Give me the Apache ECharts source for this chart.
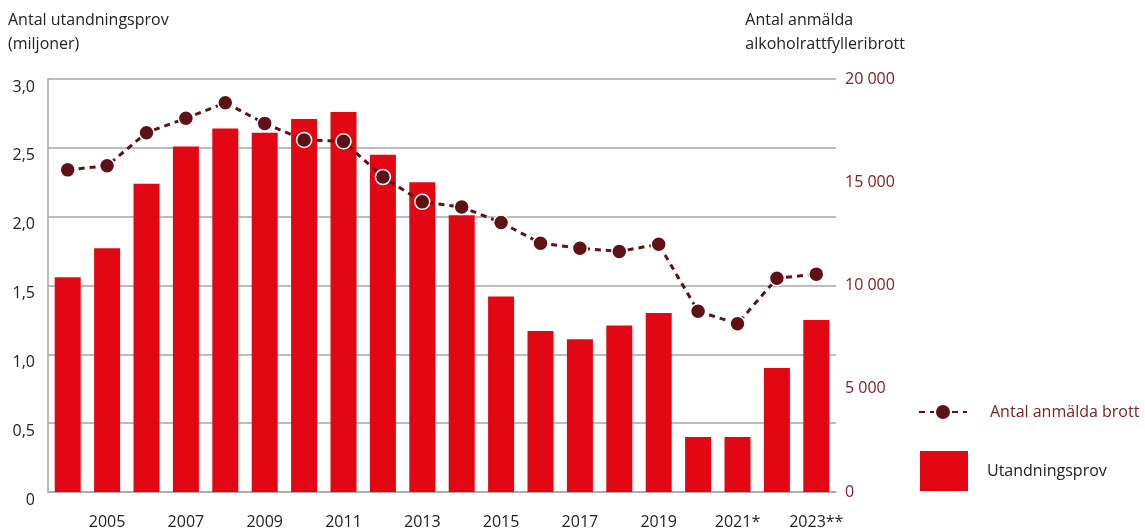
<!DOCTYPE html>
<html>
<head>
<meta charset="utf-8">
<script src="https://cdn.jsdelivr.net/npm/echarts@6/dist/echarts.min.js"></script>
<style>
  html, body { margin: 0; padding: 0; background: #fff; }
  #chart { width: 1145px; height: 531px; }
</style>
</head>
<body>
<div id="chart"></div>
<script>
// år, sista två med fotnotsmarkering
const years = ['2004', '2005', '2006', '2007', '2008', '2009', '2010', '2011', '2012', '2013',
  '2014', '2015', '2016', '2017', '2018', '2019', '2020', '2021*', '2022', '2023**'];
// utandningsprov, miljoner
const proofs = [1.56, 1.77, 2.24, 2.51, 2.64, 2.61, 2.71, 2.76, 2.45, 2.25,
  2.01, 1.42, 1.17, 1.11, 1.21, 1.30, 0.40, 0.40, 0.90, 1.25];
// anmälda alkoholrattfylleribrott
const crimes = [15600, 15800, 17400, 18100, 18850, 17850, 17050, 16980, 15250, 14050,
  13800, 13050, 12050, 11800, 11650, 12000, 8750, 8150, 10350, 10550];

const FONT = '"Open Sans", sans-serif';
const RED = '#e30613';
const DARK = '#5e1216';
const WINE = '#7d2128';
const GREY = '#a6a6a6';

let myChart = echarts.init(document.getElementById('chart'));

let option = {
  animation: false,
  textStyle: { fontFamily: FONT },
  title: [
    {
      text: 'Antal utandningsprov\n(miljoner)',
      left: 8, top: 8, padding: 0,
      textStyle: { fontFamily: FONT, fontSize: 16, fontWeight: 'normal', color: '#222', lineHeight: 24 }
    },
    {
      text: 'Antal anmälda\nalkoholrattfylleribrott',
      right: 240, top: 8, padding: 0,
      textStyle: { fontFamily: FONT, fontSize: 16, fontWeight: 'normal', color: '#222', lineHeight: 24, align: 'right' }
    }
  ],
  grid: { left: 48, right: 309, top: 79, bottom: 39 },
  legend: [
    {
      data: ['Antal anmälda brott'],
      left: 918, top: 403, padding: 0,
      itemWidth: 48, itemHeight: 20,
      textStyle: { fontFamily: FONT, fontSize: 16, color: WINE, padding: [0, 0, 0, 18] }
    },
    {
      data: [{ name: 'Utandningsprov', icon: 'rect' }],
      left: 920, top: 451, padding: 0,
      itemWidth: 48, itemHeight: 40,
      textStyle: { fontFamily: FONT, fontSize: 16, color: '#222', padding: [0, 0, 0, 14] }
    }
  ],
  xAxis: {
    type: 'category',
    data: years,
    axisLine: { lineStyle: { color: GREY, width: 1.5 } },
    axisTick: { inside: true, length: 5, lineStyle: { color: GREY, width: 1.5 } },
    axisLabel: {
      interval: function (i) { return i % 2 === 1; },
      fontSize: 16, color: '#222', margin: 22, fontFamily: FONT
    }
  },
  yAxis: [
    {
      type: 'value',
      min: 0, max: 3, interval: 0.5,
      axisLine: { show: true, lineStyle: { color: GREY, width: 1.5 } },
      axisTick: { show: false },
      splitLine: { lineStyle: { color: GREY, width: 1.5 } },
      axisLabel: {
        fontSize: 16, color: '#222', margin: 13, fontFamily: FONT,
        verticalAlign: 'top',
        formatter: function (v) { return v === 0 ? '0' : v.toFixed(1).replace('.', ','); }
      }
    },
    {
      type: 'value',
      min: 0, max: 20000, interval: 5000,
      position: 'right',
      axisLine: { show: false },
      axisTick: { show: false },
      splitLine: { show: false },
      axisLabel: {
        fontSize: 16, color: WINE, margin: 9, fontFamily: FONT,
        formatter: function (v) { return String(v).replace(/\B(?=(\d{3})+(?!\d))/g, ' '); }
      }
    }
  ],
  series: [
    {
      name: 'Utandningsprov',
      type: 'bar',
      yAxisIndex: 0,
      barWidth: 26,
      itemStyle: { color: RED },
      data: proofs
    },
    {
      name: 'Antal anmälda brott',
      type: 'line',
      yAxisIndex: 1,
      symbol: 'circle',
      symbolSize: 15,
      lineStyle: { color: DARK, width: 3, type: [6, 5] },
      itemStyle: { color: DARK, borderColor: '#fff', borderWidth: 1.5 },
      data: crimes
    }
  ]
};

option && myChart.setOption(option);
</script>
</body>
</html>
